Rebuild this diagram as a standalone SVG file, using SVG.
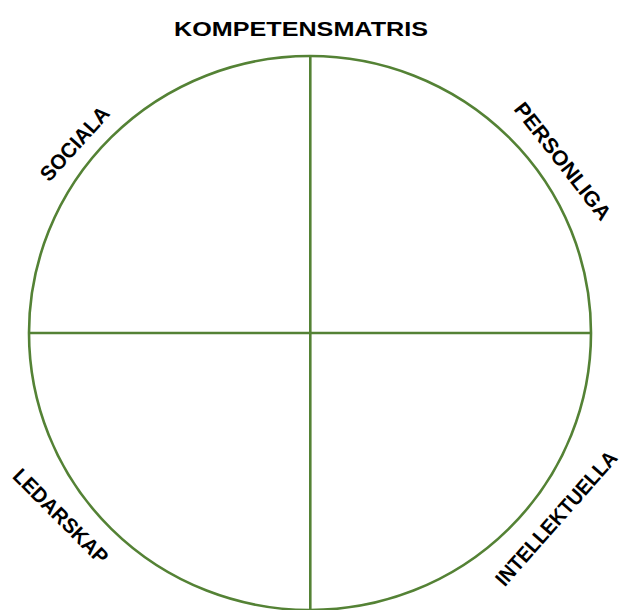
<svg xmlns="http://www.w3.org/2000/svg" width="628" height="610" viewBox="0 0 628 610">
<style>
.ln{fill:none;stroke:#548235;stroke-width:2.6}
.lb{font-family:"Liberation Sans",Arial,sans-serif;font-weight:bold;fill:#000;font-size:21px}
</style>
<rect width="628" height="610" fill="#fff"/>
<g id="connectors">
<ellipse class="ln" cx="310" cy="333" rx="281" ry="277"/>
<line class="ln" x1="310.3" y1="55" x2="310.3" y2="612"/>
<line class="ln" x1="29" y1="333" x2="591" y2="333"/>
</g>
<g id="title"><text class="lb" x="301" y="36" text-anchor="middle" font-size="23" textLength="254" lengthAdjust="spacingAndGlyphs">KOMPETENSMATRIS</text></g>
<g id="sociala"><text class="lb" transform="translate(74.5,143.5) rotate(-48)" text-anchor="middle" dy="0.36em" textLength="92" lengthAdjust="spacingAndGlyphs">SOCIALA</text></g>
<g id="personliga"><text class="lb" transform="translate(563,161) rotate(52)" text-anchor="middle" dy="0.36em" textLength="143" lengthAdjust="spacingAndGlyphs">PERSONLIGA</text></g>
<g id="ledarskap"><text class="lb" transform="translate(61,516) rotate(45)" text-anchor="middle" dy="0.36em" textLength="125" lengthAdjust="spacingAndGlyphs">LEDARSKAP</text></g>
<g id="intellektuella"><text class="lb" transform="translate(556,518) rotate(-48.5)" text-anchor="middle" dy="0.36em" font-size="20" textLength="172" lengthAdjust="spacingAndGlyphs">INTELLEKTUELLA</text></g>
</svg>
